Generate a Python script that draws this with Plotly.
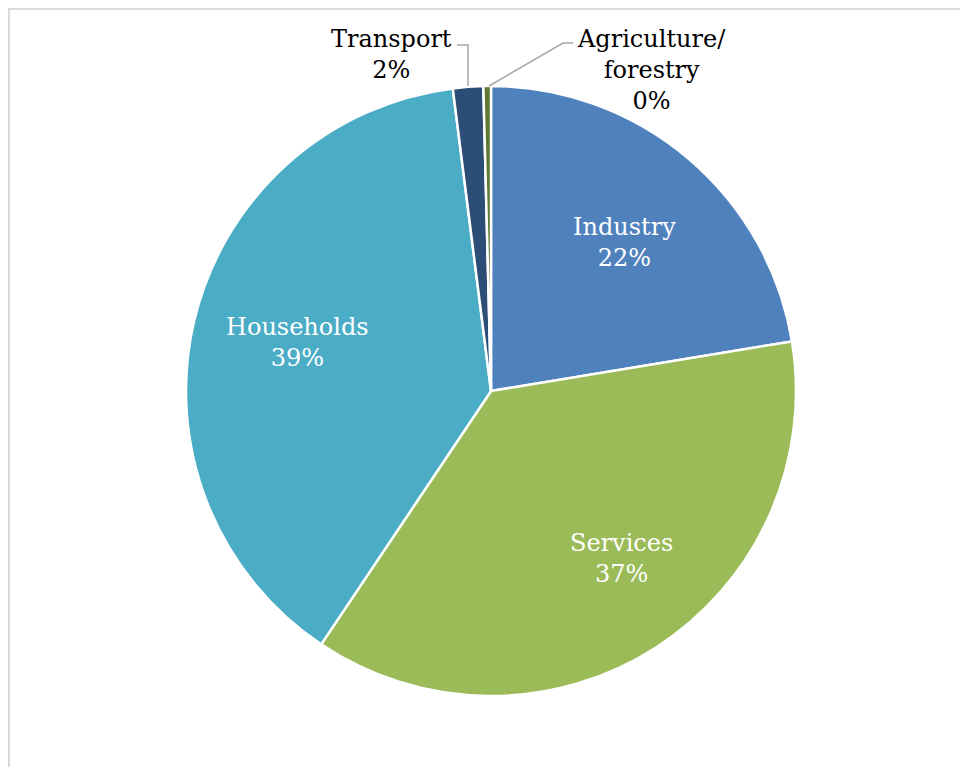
import plotly.graph_objects as go

# Final energy consumption by sector (share of total)
sectors = ["Industry", "Services", "Households", "Transport", "Agriculture/<br>forestry"]
shares = [22.4, 37.0, 38.6, 1.6, 0.4]
colors = ["#4F81BD", "#9BBB59", "#4BACC6", "#2C4D75", "#5F7530"]

W, H = 960, 767
FONT = "DejaVu Serif"


def px(x, y):
    """Pixel position -> paper coordinates."""
    return x / W, 1 - y / H


total = sum(shares)
pct = [f"{round(v / total * 100)}%" for v in shares]

# pie occupies a square of ~610 px centred at (491, 391)
cx, cy, r = 491, 391, 305
x0, y1 = px(cx - r, cy - r)
x1, y0 = px(cx + r, cy + r)

fig = go.Figure(
    go.Pie(
        labels=sectors,
        values=shares,
        sort=False,
        direction="clockwise",
        rotation=0,
        marker=dict(colors=colors, line=dict(color="white", width=2.5)),
        textinfo="none",
        hovertemplate="%{label}: %{percent}<extra></extra>",
        domain=dict(x=[x0, x1], y=[y0, y1]),
        showlegend=False,
    )
)

# label anchor points (pixels) and text colour
label_pos = {
    "Industry": (624, 243, "white"),
    "Services": (621, 558, "white"),
    "Households": (297, 342, "white"),
    "Transport": (391, 55, "black"),
    "Agriculture/<br>forestry": (651, 70, "black"),
}

annotations = []
for name, p in zip(sectors, pct):
    lx, ly, col = label_pos[name]
    ax_, ay_ = px(lx, ly)
    annotations.append(
        dict(
            x=ax_, y=ay_, xref="paper", yref="paper",
            text=f"{name}<br>{p}", showarrow=False,
            xanchor="center", yanchor="middle", align="center",
            font=dict(family=FONT, size=24, color=col),
        )
    )


def path(points):
    pts = [px(*p) for p in points]
    return "M " + " L ".join(f"{a},{b}" for a, b in pts)


shapes = [
    # chart-area frame
    dict(type="rect", xref="paper", yref="paper",
         x0=9 / W, y0=-0.05, x1=1.05, y1=1 - 9 / H,
         line=dict(color="#D9D9D9", width=2), fillcolor="rgba(0,0,0,0)", layer="below"),
    # leader lines for the small slices
    dict(type="path", xref="paper", yref="paper",
         path=path([(457, 45), (468, 45), (468, 86)]),
         line=dict(color="#A6A6A6", width=1.5)),
    dict(type="path", xref="paper", yref="paper",
         path=path([(573, 43), (563, 43), (489, 86)]),
         line=dict(color="#A6A6A6", width=1.5)),
]

fig.update_layout(
    width=W, height=H,
    margin=dict(l=0, r=0, t=0, b=0),
    paper_bgcolor="white", plot_bgcolor="white",
    annotations=annotations,
    shapes=shapes,
)

fig.write_html("out.html")
